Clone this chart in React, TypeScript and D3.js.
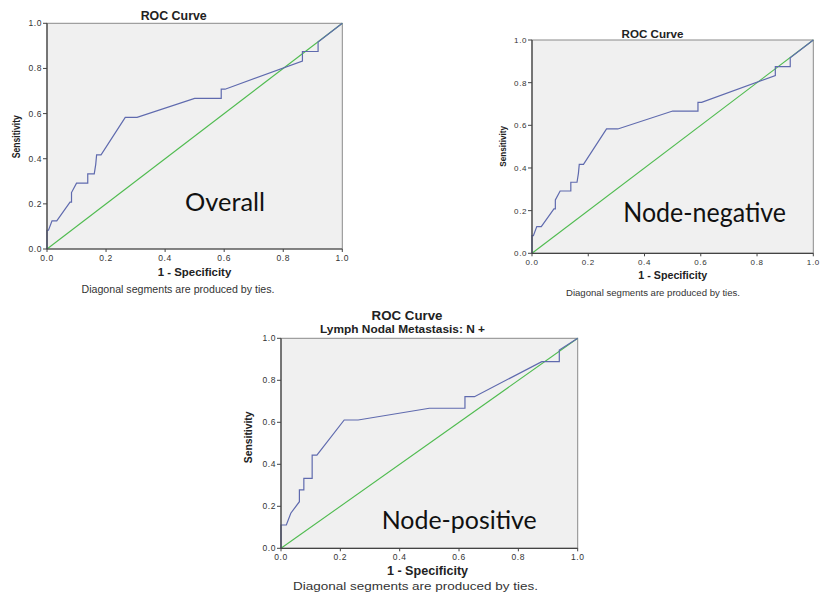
import React from "react";
import * as d3 from "d3";

// ---------- data ----------
const tickValues = [0, 0.2, 0.4, 0.6, 0.8, 1.0];

const overallFpr = [0, 0, 0.005, 0.017, 0.033, 0.078, 0.083, 0.083, 0.1, 0.138, 0.138, 0.16, 0.165, 0.168, 0.183, 0.265, 0.305, 0.5, 0.59, 0.59, 0.603, 0.865, 0.865, 0.918, 0.918, 1];
const overallTpr = [0, 0.083, 0.083, 0.125, 0.125, 0.208, 0.208, 0.25, 0.292, 0.292, 0.333, 0.333, 0.375, 0.417, 0.417, 0.583, 0.583, 0.667, 0.667, 0.708, 0.708, 0.833, 0.875, 0.875, 0.917, 1];

const nodeNegFpr = [0, 0, 0.005, 0.017, 0.033, 0.078, 0.083, 0.083, 0.1, 0.138, 0.138, 0.16, 0.165, 0.168, 0.183, 0.265, 0.305, 0.5, 0.59, 0.59, 0.603, 0.865, 0.865, 0.918, 0.918, 1];
const nodeNegTpr = [0, 0.083, 0.083, 0.125, 0.125, 0.208, 0.208, 0.25, 0.292, 0.292, 0.333, 0.333, 0.375, 0.417, 0.417, 0.583, 0.583, 0.667, 0.667, 0.708, 0.708, 0.833, 0.875, 0.875, 0.917, 1];

const nodePosFpr = [0, 0, 0.018, 0.033, 0.062, 0.062, 0.077, 0.077, 0.105, 0.105, 0.121, 0.213, 0.26, 0.5, 0.62, 0.62, 0.652, 0.879, 0.938, 0.938, 1];
const nodePosTpr = [0, 0.111, 0.111, 0.167, 0.222, 0.278, 0.278, 0.333, 0.333, 0.444, 0.444, 0.611, 0.611, 0.667, 0.667, 0.722, 0.722, 0.889, 0.889, 0.944, 1];

const refFpr = [0, 1];
const refTpr = [0, 1];

const titleText = "ROC Curve";
const subtitleText = "Lymph Nodal Metastasis: N +";
const xLabelText = "1 - Specificity";
const yLabelText = "Sensitivity";
const footText = "Diagonal segments are produced by ties.";

// ---------- styles ----------
const SANS = "'Liberation Sans', Arial, sans-serif";
const BLUE = "#5f6aae";
const GREEN = "#4fbb4f";
const BG = "#f0f0f0";

type PanelSpec = {
  x0: number; x1: number; y0: number; y1: number;
  fpr: number[]; tpr: number[];
  title: { x: number; y: number; size: number };
  subtitle?: { x: number; y: number; size: number; len: number };
  xlab: { x: number; y: number; size: number };
  ylab: { x: number; y: number; size: number; len: number };
  foot: { x: number; y: number; size: number; len: number };
  overlay: { text: string; x: number; y: number; size: number; len: number };
  tickSize: number;
};

function Panel({ p }: { p: PanelSpec }) {
  const x = d3.scaleLinear().domain([0, 1]).range([p.x0, p.x1]);
  const y = d3.scaleLinear().domain([0, 1]).range([p.y1, p.y0]);
  const line = d3.line<[number, number]>().x((d) => x(d[0])).y((d) => y(d[1]));
  const roc = line(p.fpr.map((f, i) => [f, p.tpr[i]] as [number, number])) || "";
  const diag = line(refFpr.map((f, i) => [f, refTpr[i]] as [number, number])) || "";
  const fmt = d3.format(".1f");
  return (
    <g>
      <rect x={p.x0} y={p.y0} width={p.x1 - p.x0} height={p.y1 - p.y0} fill={BG} stroke="#8a8a8a" strokeWidth={1} />
      <path d={diag} fill="none" stroke={GREEN} strokeWidth={1.1} />
      <path d={roc} fill="none" stroke={BLUE} strokeWidth={1.2} />
      <line x1={p.x0} x2={p.x0} y1={p.y0} y2={p.y1} stroke="#444" strokeWidth={1.2} />
      <line x1={p.x0} x2={p.x1} y1={p.y1} y2={p.y1} stroke="#444" strokeWidth={1.2} />
      {tickValues.map((t) => (
        <g key={"y" + t}>
          <line x1={p.x0 - 4} x2={p.x0} y1={y(t)} y2={y(t)} stroke="#444" />
          <text x={p.x0 - 5} y={y(t) + 3} textAnchor="end" fontFamily={SANS} fontSize={p.tickSize} letterSpacing={0.6} fill="#333">{fmt(t)}</text>
        </g>
      ))}
      {tickValues.map((t) => (
        <g key={"x" + t}>
          <line x1={x(t)} x2={x(t)} y1={p.y1} y2={p.y1 + 3} stroke="#444" />
          <text x={x(t)} y={p.y1 + 12} textAnchor="middle" fontFamily={SANS} fontSize={p.tickSize} letterSpacing={0.6} fill="#333">{fmt(t)}</text>
        </g>
      ))}
      <text x={p.title.x} y={p.title.y} textAnchor="middle" fontFamily={SANS} fontWeight="bold" fontSize={p.title.size} fill="#222">{titleText}</text>
      {p.subtitle && (
        <text x={p.subtitle.x} y={p.subtitle.y} textAnchor="middle" fontFamily={SANS} fontWeight="bold" fontSize={p.subtitle.size} textLength={p.subtitle.len} lengthAdjust="spacingAndGlyphs" fill="#222">{subtitleText}</text>
      )}
      <text x={p.xlab.x} y={p.xlab.y} textAnchor="middle" fontFamily={SANS} fontWeight="bold" fontSize={p.xlab.size} fill="#222">{xLabelText}</text>
      <text transform={`translate(${p.ylab.x},${p.ylab.y}) rotate(-90)`} x={0} y={3.5} textAnchor="middle" fontFamily={SANS} fontWeight="bold" fontSize={p.ylab.size} textLength={p.ylab.len} lengthAdjust="spacingAndGlyphs" fill="#222">{yLabelText}</text>
      <text x={p.foot.x} y={p.foot.y} textAnchor="middle" fontFamily={SANS} fontSize={p.foot.size} textLength={p.foot.len} lengthAdjust="spacingAndGlyphs" fill="#333">{footText}</text>
      <text x={p.overlay.x} y={p.overlay.y} fontFamily="Lato, 'Open Sans', sans-serif" fontSize={p.overlay.size} textLength={p.overlay.len} lengthAdjust="spacingAndGlyphs" fill="#111">{p.overlay.text}</text>
    </g>
  );
}

const panels: PanelSpec[] = [
  {
    x0: 47, x1: 342.3, y0: 23.3, y1: 249,
    fpr: overallFpr, tpr: overallTpr,
    title: { x: 173.7, y: 20, size: 12.4 },
    xlab: { x: 194.5, y: 276, size: 11.4 },
    ylab: { x: 16.7, y: 136.7, size: 10, len: 43 },
    foot: { x: 178, y: 292.5, size: 10.5, len: 193 },
    overlay: { text: "Overall", x: 185, y: 210.7, size: 25, len: 80 },
    tickSize: 8.5,
  },
  {
    x0: 532, x1: 813.3, y0: 40, y1: 253.3,
    fpr: nodeNegFpr, tpr: nodeNegTpr,
    title: { x: 652.5, y: 37.5, size: 11.6 },
    xlab: { x: 672.8, y: 279, size: 10.7 },
    ylab: { x: 502.7, y: 146.3, size: 9.5, len: 40.7 },
    foot: { x: 653, y: 295.5, size: 9.6, len: 174 },
    overlay: { text: "Node-negative", x: 623.3, y: 221.7, size: 26, len: 162.7 },
    tickSize: 8,
  },
  {
    x0: 281, x1: 577.7, y0: 338.3, y1: 548.3,
    fpr: nodePosFpr, tpr: nodePosTpr,
    title: { x: 407, y: 320, size: 13.3 },
    subtitle: { x: 402.5, y: 333, size: 10, len: 165 },
    xlab: { x: 427.5, y: 575, size: 12.6 },
    ylab: { x: 248.3, y: 437.3, size: 11, len: 51.7 },
    foot: { x: 415.5, y: 589.5, size: 10.5, len: 245 },
    overlay: { text: "Node-positive", x: 381.7, y: 529.3, size: 25, len: 155 },
    tickSize: 8.5,
  },
];

export default function App() {
  return (
    <svg width={821} height={592} style={{ position: "absolute", left: 0, top: 0, background: "#fff" }}>
      <rect x={0} y={0} width={821} height={592} fill="#fff" />
      {panels.map((p, i) => (
        <Panel key={i} p={p} />
      ))}
    </svg>
  );
}
